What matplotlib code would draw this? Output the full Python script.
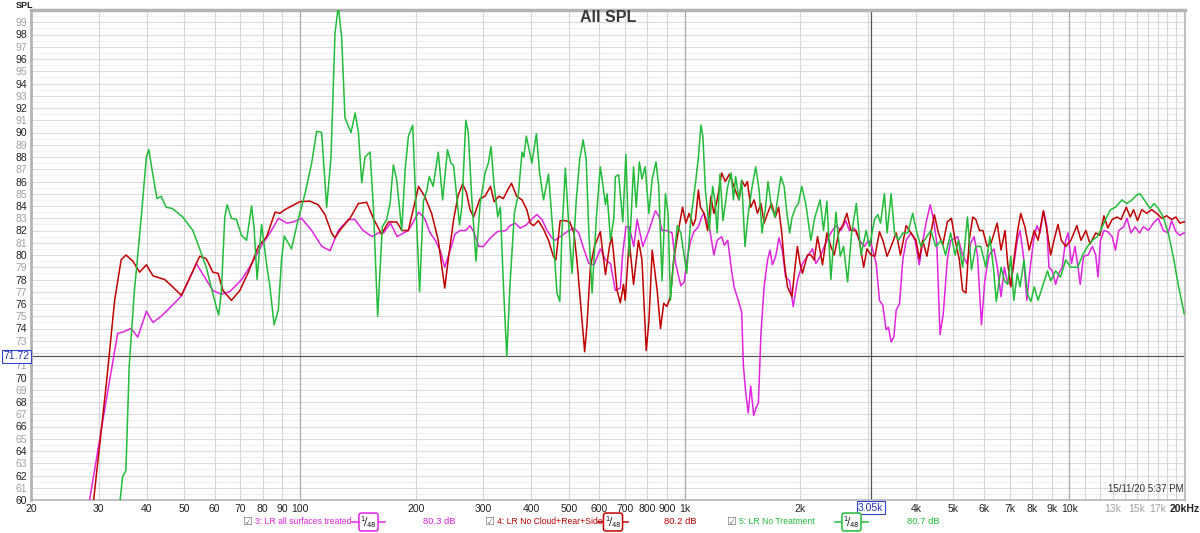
import matplotlib
matplotlib.use("Agg")
import matplotlib.pyplot as plt
from matplotlib.lines import Line2D

plt.rcParams["font.family"] = ["Liberation Sans", "DejaVu Sans"]

# ---------------- data (Hz, dB SPL) ----------------
freq_treated = [27, 28.4, 31.4, 33.6, 34.6, 36.4, 37.9, 39.9, 41.5, 43.6, 45.8, 49.2, 53.8, 56.0, 59.4, 62.5,
                65.7, 70.6, 75.0, 79.6, 83.6, 88.0, 92.4, 96.2, 101, 107.3, 114, 119.8, 125.9, 133.7, 139, 146,
                154, 160, 165, 172, 179, 186, 191.5, 203.6, 211, 218, 225, 232, 238, 246, 253, 261, 270, 277,
                284, 292, 300, 313, 326, 343, 352, 363, 374, 386, 397, 413, 426, 439, 452, 461, 475, 495, 516,
                531, 547, 564, 582, 604, 623, 642, 661, 681, 690, 704, 718, 738, 753, 779, 808, 840, 857, 874,
                900, 928, 948, 978, 998, 1018, 1038, 1058, 1086, 1108, 1124, 1160, 1192, 1216, 1249, 1268, 1295,
                1322, 1345, 1386, 1408, 1422, 1442, 1464, 1486, 1513, 1537, 1556, 1580, 1610, 1644, 1668, 1692,
                1726, 1760, 1795, 1831, 1875, 1916, 1965, 2025, 2087, 2152, 2195, 2262, 2330, 2401, 2475, 2550,
                2627, 2681, 2763, 2848, 2936, 3008, 3069, 3149, 3212, 3277, 3342, 3389, 3444, 3501, 3550, 3621,
                3693, 3768, 3879, 3973, 4076, 4159, 4243, 4352, 4439, 4526, 4615, 4705, 4821, 4919, 5129, 5283,
                5418, 5549, 5660, 5774, 5914, 6033, 6191, 6377, 6504, 6650, 6785, 6890, 7030, 7160, 7330, 7450,
                7600, 7760, 7920, 8080, 8240, 8400, 8570, 8740, 8860, 9040, 9220, 9400, 9590, 9790, 9930, 10140,
                10350, 10520, 10680, 10900, 11200, 11490, 11720, 11880, 12060, 12310, 12600, 12930, 13190, 13450,
                13850, 14130, 14470, 14840, 15230, 15590, 16060, 16550, 17050, 17560, 18090, 18450, 18940, 19400,
                19860, 20100]
spl_treated = [56.0, 60.0, 68.2, 73.6, 73.7, 74.0, 73.3, 75.4, 74.5, 75.0, 75.65, 76.65, 79.3, 78.4, 77.1, 76.8,
               77.0, 78.0, 79.3, 80.8, 81.8, 83.0, 82.6, 82.7, 83.0, 82.0, 80.7, 80.35, 82.0, 82.9, 82.9, 82.0,
               81.5, 81.8, 81.8, 82.6, 81.5, 81.8, 82.0, 83.5, 83.0, 81.8, 81.2, 80.3, 79.0, 80.4, 81.7, 82.0,
               82.0, 82.4, 81.8, 80.7, 80.7, 81.4, 81.9, 82.0, 82.4, 82.6, 82.2, 82.4, 82.8, 83.3, 82.9, 82.0,
               81.4, 81.2, 81.5, 81.9, 82.2, 81.8, 80.5, 79.3, 79.2, 80.5, 79.6, 79.3, 77.1, 77.3, 80.0, 82.3,
               82.3, 80.7, 82.9, 80.7, 82.0, 83.6, 83.2, 82.0, 82.0, 81.8, 79.3, 77.5, 77.8, 79.9, 81.2, 81.9,
               82.3, 83.1, 83.4, 82.3, 80.0, 81.2, 81.5, 80.8, 81.2, 79.0, 77.4, 76.1, 75.3, 71.0, 68.8, 67.1,
               69.3, 66.9, 67.6, 67.9, 73.6, 77.4, 79.6, 80.4, 79.2, 79.9, 81.4, 80.4, 78.2, 77.9, 75.8, 77.9,
               79.3, 79.9, 80.5, 79.3, 80.0, 81.0, 81.8, 82.4, 82.0, 82.8, 82.0, 82.2, 81.2, 80.7, 81.2, 80.7,
               79.3, 76.3, 75.9, 73.9, 74.1, 72.9, 73.3, 75.5, 76.0, 79.6, 81.2, 81.8, 81.2, 79.2, 81.0, 82.6,
               84.1, 82.9, 81.0, 73.5, 75.2, 79.6, 81.2, 81.5, 80.0, 79.3, 81.0, 81.5, 80.0, 74.3, 77.9, 80.0,
               80.5, 79.0, 76.6, 79.0, 77.9, 77.6, 79.0, 81.2, 82.0, 80.0, 76.3, 79.0, 81.2, 82.4, 81.8, 83.6,
               82.4, 79.0, 78.7, 77.6, 78.5, 79.0, 81.2, 81.8, 79.3, 80.7, 79.2, 77.6, 79.9, 80.0, 80.7, 80.0,
               78.2, 81.2, 82.0, 81.9, 81.5, 80.4, 82.0, 82.3, 83.0, 81.8, 82.3, 81.8, 82.3, 82.0, 82.6, 83.0,
               82.0, 81.8, 82.8, 81.9, 81.6, 81.8, 81.8]

freq_nocloud = [28, 29.1, 31.4, 33, 34.3, 35.3, 36.8, 38.3, 39.9, 41.5, 44.5, 46.7, 49.2, 52.2, 54.9, 57.1, 59.4,
                61.3, 63.1, 66.4, 69.8, 73.5, 78.0, 82, 86.2, 88.7, 91.4, 95.2, 100, 106.2, 111.6, 116.2, 120.9,
                123.3, 128.4, 135, 141.9, 149.2, 155.2, 163, 170, 178.6, 184, 191.4, 203.5, 211, 220, 229, 234,
                238, 243, 251, 258, 265, 271, 277, 283, 294, 303, 313, 320, 329, 338, 348, 355, 366, 378, 389,
                397, 405, 417, 430, 443, 456, 463, 475, 490, 503, 516, 526, 536, 550, 558, 569, 583, 604, 623,
                638, 647, 655, 668, 681, 694, 701, 718, 737, 759, 775, 795, 808, 824, 849, 866, 883, 900, 919,
                937, 964, 988, 1008, 1028, 1053, 1068, 1086, 1100, 1124, 1148, 1171, 1192, 1216, 1249, 1276,
                1309, 1340, 1366, 1386, 1408, 1436, 1457, 1486, 1517, 1547, 1580, 1610, 1644, 1683, 1722, 1756,
                1790, 1814, 1851, 1902, 1930, 1965, 1996, 2025, 2087, 2130, 2173, 2217, 2284, 2345, 2401, 2450,
                2524, 2576, 2643, 2707, 2790, 2848, 2922, 2980, 3053, 3127, 3212, 3277, 3362, 3444, 3550, 3643,
                3768, 3879, 3998, 4076, 4159, 4268, 4370, 4461, 4571, 4691, 4821, 4941, 5051, 5183, 5283, 5389,
                5496, 5615, 5717, 5845, 5964, 6120, 6269, 6497, 6650, 6810, 6920, 7050, 7180, 7330, 7480, 7670,
                7870, 8110, 8300, 8570, 8780, 8950, 9130, 9350, 9540, 9790, 10100, 10470, 10730, 11050, 11330,
                11720, 12020, 12310, 12600, 12930, 13320, 13640, 14070, 14410, 14700, 15050, 15440, 15900,
                16380, 16880, 17390, 17910, 18450, 18940, 19400, 19860, 20100]
spl_nocloud = [57.0, 60.0, 69.5, 76.3, 79.6, 80.0, 79.5, 78.6, 79.2, 78.3, 78.0, 77.4, 76.7, 78.4, 79.9, 79.7,
               78.6, 78.5, 77.1, 76.3, 77.1, 78.6, 80.7, 81.5, 83.5, 83.4, 83.7, 84.0, 84.35, 84.4, 84.1, 83.3,
               81.8, 81.4, 82.2, 83.0, 84.2, 84.3, 83.0, 81.7, 82.7, 82.7, 82.0, 82.0, 85.6, 84.8, 83.4, 81.2,
               79.0, 77.3, 79.6, 82.9, 84.9, 85.8, 85.1, 83.7, 83.1, 84.6, 84.8, 85.6, 84.35, 84.8, 84.6, 85.4,
               85.85, 84.8, 84.5, 83.7, 82.6, 82.4, 82.8, 82.1, 81.2, 79.9, 79.6, 82.8, 82.8, 82.7, 81.8, 79.3,
               76.3, 72.1, 74.4, 79.0, 80.7, 81.9, 78.4, 80.7, 81.5, 79.9, 77.1, 76.1, 77.6, 76.3, 81.2, 77.6,
               81.2, 79.6, 72.2, 74.6, 80.4, 77.1, 74.0, 76.05, 75.8, 76.6, 79.6, 82.0, 83.9, 82.6, 83.4, 82.4,
               82.9, 85.3, 83.9, 83.4, 82.0, 84.8, 83.4, 84.5, 86.7, 86.0, 86.6, 85.7, 85.0, 84.5, 86.1, 85.6,
               86.0, 83.9, 84.5, 83.4, 84.2, 82.6, 83.4, 84.2, 83.1, 83.9, 81.8, 79.6, 77.4, 76.6, 78.5, 80.7,
               79.3, 78.5, 80.0, 80.0, 79.6, 81.5, 79.2, 81.8, 80.7, 80.0, 82.0, 82.4, 83.4, 82.0, 82.0, 81.2,
               79.0, 80.5, 80.0, 79.9, 81.9, 81.2, 79.9, 80.7, 81.8, 80.0, 82.4, 81.8, 81.2, 79.7, 81.2, 79.9,
               81.8, 83.3, 81.8, 80.8, 82.7, 83.0, 81.2, 79.6, 77.1, 76.9, 81.2, 83.1, 82.9, 82.0, 82.0, 80.7,
               81.0, 82.6, 80.4, 82.0, 79.3, 77.4, 79.6, 81.8, 83.4, 82.3, 80.4, 82.0, 81.2, 83.6, 81.8, 80.0,
               81.2, 82.5, 81.2, 80.7, 81.2, 82.4, 81.2, 82.0, 80.9, 81.8, 81.6, 83.2, 82.2, 82.9, 83.1, 82.9,
               83.9, 83.1, 83.7, 82.8, 83.7, 83.4, 83.7, 83.4, 83.0, 83.2, 82.9, 83.1, 82.6, 82.7, 82.7]

freq_none = [33, 34.1, 34.6, 35.3, 36.0, 37.1, 38.7, 39.9, 40.5, 41.3, 42.5, 43.6, 44.9, 46.6, 49.6, 52.7, 54.9,
             57.1, 58.9, 60.6, 61.5, 62.5, 63.8, 64.7, 66.4, 68.4, 70.5, 72.7, 74.9, 76.0, 77.4, 79.5, 81.9, 83.6,
             85.7, 87.9, 89.6, 91.1, 95.1, 99.0, 103.1, 107.3, 110.6, 113.9, 117.4, 120.5, 123.4, 125.9, 128.4,
             131, 135.8, 139.2, 142, 144.8, 147.7, 152.2, 155.3, 159.3, 163.8, 168.2, 171.6, 175, 178.6, 184,
             187.8, 191.5, 196.5, 200.2, 204.8, 209.5, 214, 217, 222, 229, 235, 242, 247, 251, 260, 264, 270,
             274, 280, 287, 294, 303, 309, 314, 320, 327, 332, 338, 345, 352, 361, 370, 378, 382, 388, 393, 401,
             412, 420, 430, 443, 455, 466, 474, 480, 490, 500, 510, 523, 534, 545, 555, 564, 575, 590, 604, 614,
             623, 629, 642, 655, 661, 674, 691, 704, 718, 737, 749, 763, 775, 790, 808, 824, 843, 857, 874, 892,
             906, 919, 937, 958, 978, 1013, 1038, 1068, 1086, 1103, 1116, 1133, 1160, 1183, 1199, 1216, 1236,
             1259, 1295, 1322, 1340, 1358, 1386, 1408, 1436, 1465, 1499, 1531, 1563, 1590, 1624, 1648, 1683,
             1718, 1780, 1815, 1846, 1876, 1904, 1946, 1977, 2017, 2066, 2130, 2182, 2252, 2298, 2345, 2401,
             2475, 2540, 2591, 2654, 2719, 2796, 2877, 2965, 3026, 3118, 3180, 3232, 3309, 3362, 3444, 3515,
             3600, 3693, 3804, 3918, 4020, 4117, 4243, 4370, 4500, 4651, 4772, 4919, 5051, 5150, 5283, 5439,
             5571, 5717, 5890, 6069, 6215, 6351, 6465, 6650, 6785, 6920, 7050, 7180, 7330, 7450, 7630, 7790,
             7950, 8110, 8300, 8520, 8780, 8950, 9220, 9500, 9790, 10100, 10520, 10840, 11160, 11490, 11830,
             12060, 12430, 12800, 13190, 13720, 14130, 14560, 14990, 15290, 15750, 16220, 16610, 17050, 17560,
             18090, 18640, 19200, 19900]
spl_none = [55.0, 60.0, 61.9, 62.4, 70.9, 76.9, 83.1, 88.0, 88.6, 86.9, 84.6, 84.8, 83.9, 83.8, 83.1, 82.0, 80.5,
            79.0, 77.3, 75.8, 75.1, 77.0, 83.1, 84.1, 83.0, 82.9, 81.6, 81.2, 84.0, 82.3, 78.0, 82.5, 79.3, 77.4,
            74.3, 75.5, 79.6, 81.55, 80.5, 82.9, 85.0, 87.5, 90.1, 90.0, 83.9, 88.0, 98.1, 100.3, 97.8, 91.2,
            90.0, 91.6, 90.0, 85.9, 88.0, 88.4, 83.9, 75.0, 82.3, 82.9, 84.2, 87.35, 86.1, 82.0, 87.0, 89.7,
            90.6, 84.2, 77.0, 84.4, 85.3, 86.4, 85.6, 88.4, 84.5, 88.6, 87.5, 87.3, 82.45, 84.1, 91.0, 90.0,
            84.5, 79.5, 84.1, 86.7, 87.5, 88.85, 85.6, 83.1, 83.9, 77.7, 71.7, 77.7, 83.4, 85.0, 88.4, 88.0,
            89.7, 88.85, 87.5, 89.9, 86.7, 84.5, 86.6, 81.8, 76.9, 76.2, 81.8, 87.1, 82.4, 78.5, 84.5, 87.8,
            89.4, 87.8, 81.8, 76.9, 83.1, 87.2, 85.6, 84.1, 85.0, 81.2, 83.0, 86.4, 86.55, 82.7, 88.2, 79.9,
            87.2, 83.9, 87.6, 86.2, 87.2, 83.4, 86.2, 87.6, 85.6, 77.9, 85.0, 83.4, 76.3, 79.6, 82.4, 81.8,
            78.5, 82.9, 85.9, 87.9, 90.6, 89.7, 85.3, 82.0, 85.6, 84.5, 81.8, 86.6, 82.8, 85.6, 86.7, 84.5,
            86.4, 84.5, 86.1, 80.7, 83.4, 85.6, 87.2, 85.3, 81.8, 83.9, 86.0, 83.9, 83.1, 86.4, 85.6, 83.4,
            81.8, 83.1, 83.9, 84.2, 85.6, 84.2, 81.2, 83.1, 84.5, 82.0, 84.4, 78.0, 83.5, 79.9, 80.7, 77.8,
            81.8, 84.2, 80.0, 82.0, 80.7, 82.9, 83.3, 82.6, 85.0, 81.8, 85.0, 81.8, 81.2, 81.8, 81.8, 83.4,
            81.8, 80.7, 81.4, 82.0, 80.7, 81.2, 80.0, 81.8, 80.0, 81.2, 79.0, 83.1, 78.8, 80.7, 80.7, 79.0,
            81.5, 79.0, 76.2, 79.0, 77.9, 77.6, 79.9, 76.3, 78.5, 77.4, 79.6, 76.8, 76.2, 77.4, 76.3, 77.4,
            78.7, 77.9, 78.7, 78.2, 79.6, 79.0, 79.0, 80.0, 80.7, 81.2, 81.5, 82.0, 82.9, 83.7, 83.9, 84.5,
            84.2, 84.5, 84.9, 85.0, 84.4, 83.8, 84.2, 83.8, 83.1, 81.8, 79.9, 77.6, 75.2]

series_names = ["3: LR all surfaces treated", "4: LR No Cloud+Rear+Side", "5: LR No Treatment"]
series_avg = ["80.3 dB", "80.2 dB", "80.7 dB"]
series_colors = ["#e024e0", "#c00000", "#22bb3a"]

x_tick_vals = [20, 30, 40, 50, 60, 70, 80, 90, 100, 200, 300, 400, 500, 600, 700, 800, 900,
               1000, 2000, 4000, 5000, 6000, 7000, 8000, 9000, 10000, 13000, 15000, 17000, 20000]
x_tick_text = ["20", "30", "40", "50", "60", "70", "80", "90", "100", "200", "300", "400", "500", "600",
               "700", "800", "900", "1k", "2k", "4k", "5k", "6k", "7k", "8k", "9k", "10k", "13k", "15k",
               "17k", "20kHz"]
grey_x_ticks = ["13k", "15k", "17k"]
y_tick_vals = list(range(60, 100))
cursor_freq = 3050
cursor_freq_text = "3.05k"
cursor_spl = 71.72
cursor_spl_text = "71.72"
title = "All SPL"
timestamp = "15/11/20 5:37 PM"

# ---------------- figure ----------------
W, H = 1200, 533
fig = plt.figure(figsize=(W / 100, H / 100), dpi=100)
fig.patch.set_facecolor("white")
ax = fig.add_axes([31 / W, 33 / H, (1185 - 31) / W, (500 - 10) / H])
ax.set_xscale("log")
ax.set_xlim(20, 20000)
ax.set_ylim(60, 100)

# grid
for v in y_tick_vals:
    ax.axhline(v, color="#dcdcdc", lw=0.8, zorder=0)
    ax.axhline(v + 0.5, color="#efefef", lw=0.6, zorder=0)
minor_v = []
for dec in (10, 100, 1000):
    for m in range(2, 10):
        minor_v.append(m * dec)
minor_v += [11000, 12000, 13000, 14000, 15000, 16000, 17000, 18000, 19000]
for v in minor_v:
    if 20 < v < 20000:
        ax.axvline(v, color="#d6d6d6", lw=0.8, zorder=0)
for v in (100, 1000, 10000):
    ax.axvline(v, color="#a9a9a9", lw=0.9, zorder=0)

# cursors
ax.axhline(cursor_spl, color="#555555", lw=0.9, zorder=1)
ax.axvline(cursor_freq, color="#555555", lw=0.9, zorder=1)

# curves
for f, s, c in ((freq_treated, spl_treated, series_colors[0]),
                (freq_nocloud, spl_nocloud, series_colors[1]),
                (freq_none, spl_none, series_colors[2])):
    ax.plot(f, s, color=c, lw=1.1, zorder=3, solid_joinstyle="round")

# ticks
ax.set_xticks(x_tick_vals)
ax.set_xticklabels(x_tick_text)
ax.minorticks_off()
ax.set_xticks([], minor=True)
ax.set_yticks(y_tick_vals)
ax.set_yticklabels(["" if v == 72 else str(v) for v in y_tick_vals])
ax.tick_params(axis="both", length=0, labelsize=7.5, colors="#222222")
ax.tick_params(axis="x", pad=3)
ax.tick_params(axis="y", pad=3)
for lbl, v in zip(ax.get_yticklabels(), y_tick_vals):
    lbl.set_color("#222222" if v % 2 == 0 else "#a0a0a0")
for lbl in ax.get_xticklabels():
    if lbl.get_text() in grey_x_ticks:
        lbl.set_color("#a0a0a0")
    if lbl.get_text() == "20kHz":
        lbl.set_fontweight("bold")

for side in ("left", "right", "bottom", "top"):
    ax.spines[side].set_color("#b4b4b4")
    ax.spines[side].set_linewidth(1.2)
ax.spines["top"].set_linewidth(2.5)
ax.spines["left"].set_linewidth(2.0)

# cursor boxes
box = dict(boxstyle="square,pad=0.15", fc="white", ec="#3344cc", lw=0.8)
ax.text(-0.0125, cursor_spl, cursor_spl_text, transform=ax.get_yaxis_transform(), ha="center",
        va="center", fontsize=7.5, color="#2233bb", bbox=box, zorder=6, clip_on=False)
ax.text(cursor_freq, -0.016, cursor_freq_text, transform=ax.get_xaxis_transform(), ha="center",
        va="center", fontsize=7.5, color="#2233bb", bbox=box, zorder=6, clip_on=False)

# texts
fig.text(608 / W, 1 - 18 / H, title, ha="center", va="center", fontsize=11.5, fontweight="bold",
         color="#3a3a3a")
fig.text(16 / W, 1 - 5 / H, "SPL", ha="left", va="center", fontsize=6.5, fontweight="bold", color="#222222")
ax.text(0.9985, 0.012, timestamp, transform=ax.transAxes, ha="right", va="bottom", fontsize=7,
        color="#333333")

# legend row
leg_size = 6.2
ly = 1 - 522 / H
legend_x = [(247, 255, 352, 385, 423), (489, 497, 598, 628, 664), (731, 739, 835, 868, 907)]
for (cb, tx, s0, s1, av), name, avg, col in zip(legend_x, series_names, series_avg, series_colors):
    fig.text(cb / W, ly, "\u2611", ha="center", va="center", fontsize=8, color="#777777",
             family=["DejaVu Sans"])
    fig.text(tx / W, ly, name, ha="left", va="center", fontsize=leg_size, color=col)
    fig.add_artist(Line2D([s0 / W, s1 / W], [ly, ly], color=col, lw=1.1, transform=fig.transFigure))
    fig.text((s0 + s1) / 2 / W, ly, r"$^{1}\!/_{48}$", ha="center", va="center", fontsize=7,
             color="#111111",
             bbox=dict(boxstyle="round,pad=0.12,rounding_size=0.25", fc="white", ec=col, lw=1.1))
    fig.text(av / W, ly, avg, ha="left", va="center", fontsize=leg_size + 0.6, color=col)

fig.savefig("out.png", dpi=100, facecolor="white")
